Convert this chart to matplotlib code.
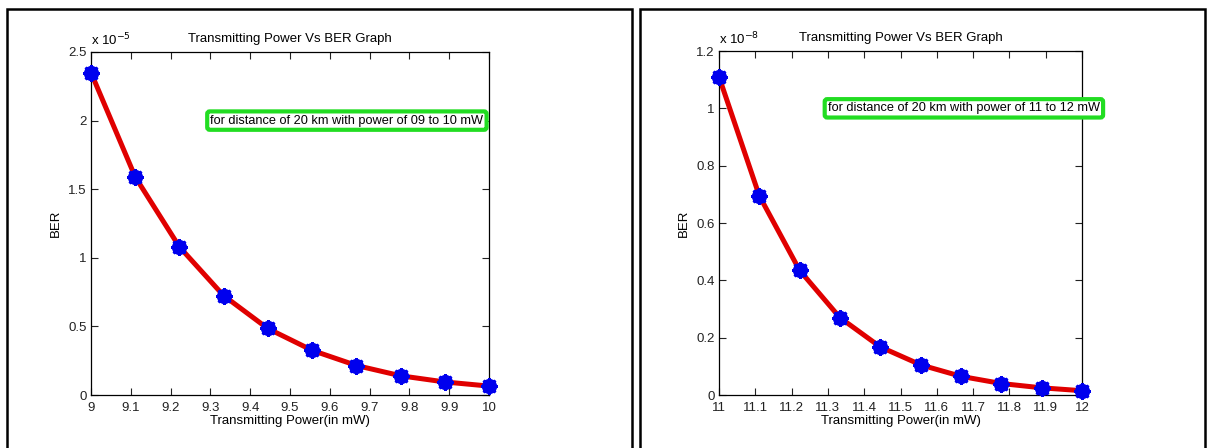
import numpy as np
import matplotlib
matplotlib.use("Agg")
import matplotlib.pyplot as plt
from matplotlib.patches import Rectangle

plt.rcParams['font.family'] = ['Liberation Sans', 'DejaVu Sans']

# datos
power_a = [9.0, 9.111, 9.222, 9.333, 9.444, 9.556, 9.667, 9.778, 9.889, 10.0]
ber_a = [2.35, 1.59, 1.08, 0.725, 0.485, 0.325, 0.215, 0.14, 0.095, 0.065]  # x 1e-5
power_b = [11.0, 11.111, 11.222, 11.333, 11.444, 11.556, 11.667, 11.778, 11.889, 12.0]
ber_b = [1.11, 0.695, 0.435, 0.27, 0.168, 0.105, 0.065, 0.04, 0.025, 0.015]  # x 1e-8

ticks_a = [9, 9.1, 9.2, 9.3, 9.4, 9.5, 9.6, 9.7, 9.8, 9.9, 10]
ticks_b = [11, 11.1, 11.2, 11.3, 11.4, 11.5, 11.6, 11.7, 11.8, 11.9, 12]
yticks_a = [0, 0.5, 1, 1.5, 2, 2.5]
yticks_b = [0, 0.2, 0.4, 0.6, 0.8, 1, 1.2]

W, H = 1208, 448
fig = plt.figure(figsize=(W / 100, H / 100), dpi=100)

# marcos de cada panel
for x0, x1 in [(7, 632), (640, 1205)]:
    fig.patches.append(Rectangle((x0 / W, -0.05), (x1 - x0) / W, 1.05 - 9 / H,
                                 transform=fig.transFigure, fill=False,
                                 edgecolor='black', linewidth=1.8))


def panel(rect, x, y, xt, yt, ylim, expo, note, note_xy):
    l, r, t, b = rect
    ax = fig.add_axes([l / W, 1 - b / H, (r - l) / W, (b - t) / H])
    ax.plot(x, y, color='#e00000', linewidth=3.6, zorder=2)
    ax.plot(x, y, linestyle='none', marker='o', markersize=10,
            color='#0000ee', zorder=3, clip_on=False)
    ax.plot(x, y, linestyle='none', marker=(8, 2, 0), markersize=12,
            color='#0000ee', markeredgewidth=2, zorder=3, clip_on=False)
    ax.set_xlim(xt[0], xt[-1])
    ax.set_ylim(ylim)
    ax.set_xticks(xt)
    ax.set_xticklabels([('%g' % v) for v in xt])
    ax.set_yticks(yt)
    ax.set_yticklabels([('%g' % v) for v in yt])
    ax.tick_params(direction='in', top=True, right=True, labelsize=9.5,
                   length=5, width=0.8, colors='#222222', pad=3)
    ax.tick_params(axis='x', pad=5)
    for s in ax.spines.values():
        s.set_linewidth(0.9)
    ax.set_xlabel('Transmitting Power(in mW)', fontsize=9.5, labelpad=1)
    ax.set_ylabel('BER', fontsize=9.5, labelpad=5)
    ax.set_title('Transmitting Power Vs BER Graph', fontsize=9.5, pad=7)
    ax.text(0.0, 1.01, 'x 10$^{-%d}$' % expo, transform=ax.transAxes,
            fontsize=9.5, va='bottom', ha='left')
    ax.text(note_xy[0], note_xy[1], note, fontsize=9.2, va='center', ha='left',
            bbox=dict(boxstyle='round,pad=0.25,rounding_size=0.2',
                      facecolor='white', edgecolor='#22dd22', linewidth=3))
    return ax


panel((91, 489, 52, 395), power_a, ber_a, ticks_a, yticks_a, (0, 2.5), 5,
      'for distance of 20 km with power of 09 to 10 mW', (9.3, 2.0))
panel((719, 1082, 51, 395), power_b, ber_b, ticks_b, yticks_b, (0, 1.2), 8,
      'for distance of 20 km with power of 11 to 12 mW', (11.3, 1.0))

fig.savefig('out.png', dpi=100)
